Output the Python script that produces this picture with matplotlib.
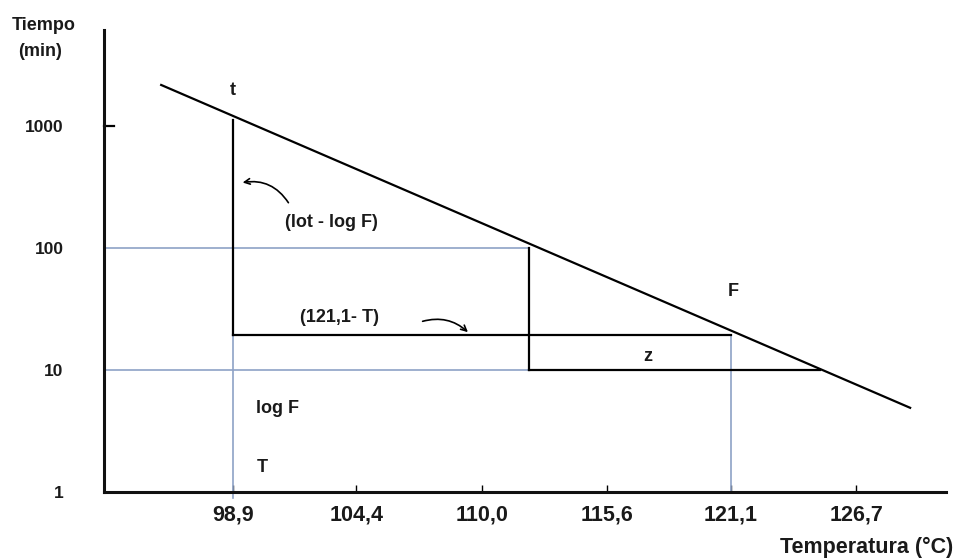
import matplotlib
matplotlib.use("Agg")
import matplotlib.pyplot as plt

plt.rcParams['font.family'] = ['Liberation Sans', 'DejaVu Sans']
plt.rcParams['font.weight'] = 'bold'

# Data (temperature in °C, time in min)
line_T = [95.7, 129.1]
line_t = [2170, 4.9]
t_point = (98.9, 1120)
F_point = (121.1, 19.5)
mid_T = 112.1
low_T = 125.1
x_ticks = [98.9, 104.4, 110.0, 115.6, 121.1, 126.7]
x_labels = ["98,9", "104,4", "110,0", "115,6", "121,1", "126,7"]
y_ticks = [1, 10, 100, 1000]
y_labels = ["1", "10", "100", "1000"]

xmin, xmax = 93.15, 130.7
ymin, ymax = 1, 10 ** 3.787

fig = plt.figure(figsize=(9.57, 5.58), dpi=100)
ax = fig.add_axes([104/957, 66/558, (946-104)/957, (492-30)/558])
ax.set_yscale('log')
ax.set_xlim(xmin, xmax)
ax.set_ylim(ymin, ymax)

blue = '#8ea2c6'
k = 'black'
# blue guide lines
ax.plot([xmin, mid_T], [100, 100], color=blue, lw=1.2)
ax.plot([xmin, mid_T], [10, 10], color=blue, lw=1.2)
ax.plot([t_point[0], t_point[0]], [0.9, F_point[1]], color=blue, lw=1.2, clip_on=False)
ax.plot([F_point[0], F_point[0]], [1, F_point[1]], color=blue, lw=1.2)

# main line
ax.plot(line_T, line_t, color=k, lw=1.6)
# construction lines
ax.plot([t_point[0], t_point[0]], [t_point[1], F_point[1]], color=k, lw=1.6)
ax.plot([t_point[0], F_point[0]], [F_point[1], F_point[1]], color=k, lw=1.6)
ax.plot([mid_T, mid_T], [100, 10], color=k, lw=1.6)
ax.plot([mid_T, low_T], [10, 10], color=k, lw=1.6)

# axes style
for s in ['top', 'right']:
    ax.spines[s].set_visible(False)
for s in ['left', 'bottom']:
    ax.spines[s].set_linewidth(2.2)
    ax.spines[s].set_color('#111111')

ax.set_xticks(x_ticks)
ax.set_xticklabels(x_labels, fontsize=15.5, fontweight='bold', color='#1a1a1a')
ax.tick_params(axis='x', direction='in', length=5, width=1, pad=9)
ax.set_yticks(y_ticks)
ax.set_yticklabels(y_labels, fontsize=12.5, fontweight='bold', color='#1a1a1a')
ax.tick_params(axis='y', length=0, pad=29)
ax.yaxis.set_minor_locator(matplotlib.ticker.NullLocator())
# small tick at 1000
ax.plot([xmin, xmin + 0.45], [1000, 1000], color=k, lw=1.6, clip_on=False)

# annotations
tk = dict(fontsize=13, fontweight='bold', color='#1a1a1a', ha='center', va='center')
ax.text(98.9, 1972, 't', **tk)
ax.text(103.3, 163, '(lot - log F)', **tk)
ax.text(103.67, 26.7, '(121,1- T)', **tk)
ax.text(121.19, 43.6, 'F', **tk)
ax.text(117.4, 13.0, 'z', **tk)
ax.text(100.9, 4.88, 'log F', **tk)
ax.text(100.2, 1.6, 'T', **tk)

ax.annotate('', xy=(99.21, 341), xytext=(101.44, 225),
            arrowprops=dict(arrowstyle='->', color=k, lw=1.2,
                            connectionstyle='arc3,rad=0.35'))
ax.annotate('', xy=(109.47, 19.7), xytext=(107.24, 24.7),
            arrowprops=dict(arrowstyle='->', color=k, lw=1.2,
                            connectionstyle='arc3,rad=-0.3'))

fig.text(44/957, 1 - 25/558, 'Tiempo', fontsize=13, fontweight='bold',
         color='#1a1a1a', ha='center', va='center')
fig.text(40/957, 1 - 52/558, '(min)', fontsize=13, fontweight='bold',
         color='#1a1a1a', ha='center', va='center')
fig.text(953/957, 1 - 547/558, 'Temperatura (°C)', fontsize=15.5, fontweight='bold',
         color='#1a1a1a', ha='right', va='center')

fig.savefig('out.png', dpi=100)
